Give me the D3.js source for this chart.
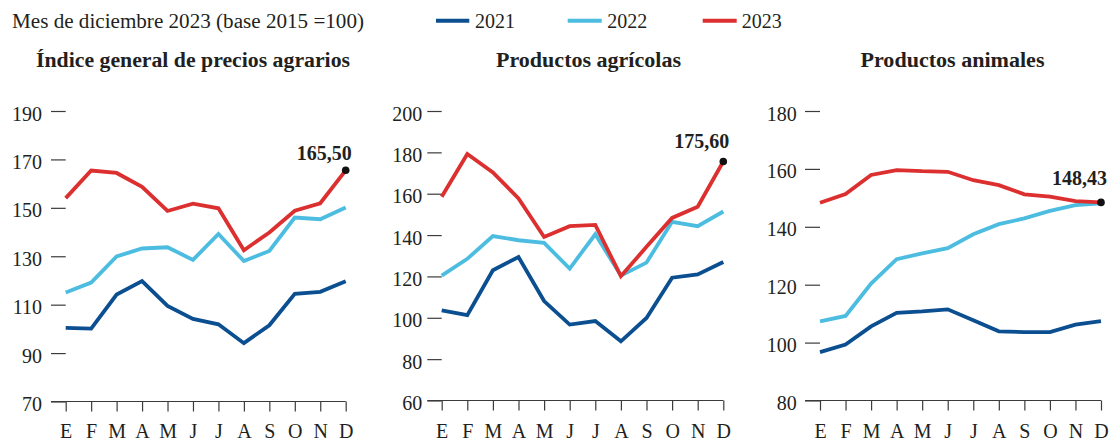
<!DOCTYPE html>
<html>
<head>
<meta charset="utf-8">
<script src="https://cdn.jsdelivr.net/npm/d3@7"></script>
<style>
  html, body { margin: 0; padding: 0; background: #ffffff; }
  svg { display: block; }
  text { font-family: "Liberation Serif", "DejaVu Serif", serif; fill: #231f20; }
</style>
</head>
<body>
<svg id="chart" width="1113" height="443"></svg>
<script>
// ---------- DATA ----------
const months = ["E", "F", "M", "A", "M", "J", "J", "A", "S", "O", "N", "D"];
const years = ["2021", "2022", "2023"];
const subtitle = "Mes de diciembre 2023 (base 2015 =100)";
const panelTitles = ["Índice general de precios agrarios", "Productos agrícolas", "Productos animales"];

const generalTicks = [70, 90, 110, 130, 150, 170, 190];
const general2021 = [100.4, 100.1, 114.2, 119.7, 109.5, 104.1, 101.9, 94.1, 101.5, 114.5, 115.3, 119.7];
const general2022 = [115.0, 119.1, 129.9, 133.2, 133.7, 128.5, 139.2, 128.0, 132.2, 146.0, 145.3, 150.1];
const general2023 = [154.0, 165.4, 164.4, 158.7, 148.7, 151.7, 149.8, 132.5, 139.8, 148.8, 151.9, 165.5];

const agricolaTicks = [60, 80, 100, 120, 140, 160, 180, 200];
const agricola2021 = [103.6, 101.3, 123.0, 129.4, 108.1, 96.7, 98.4, 88.6, 99.9, 119.4, 121.0, 127.0];
const agricola2022 = [120.4, 128.5, 139.5, 137.5, 136.2, 123.8, 140.4, 120.4, 126.7, 146.4, 144.3, 151.4];
const agricola2023 = [158.5, 179.2, 170.3, 157.7, 139.1, 144.3, 144.9, 120.1, 134.3, 148.3, 153.7, 175.6];

const animalTicks = [80, 100, 120, 140, 160, 180];
const animal2021 = [96.7, 99.3, 105.6, 110.3, 110.8, 111.5, 107.7, 103.9, 103.6, 103.6, 106.2, 107.4];
const animal2022 = [107.3, 109.2, 120.4, 128.8, 130.8, 132.6, 137.4, 140.9, 142.9, 145.5, 147.5, 148.1];
const animal2023 = [148.3, 151.3, 157.9, 159.6, 159.2, 159.0, 156.1, 154.4, 151.2, 150.4, 148.9, 148.43];

const finalLabels = ["165,50", "175,60", "148,43"];

// ---------- STYLE / LAYOUT ----------
const colors = { "2021": "#0b4f91", "2022": "#4cbde0", "2023": "#dc2f2f" };
const textColor = "#231f20";
const axisColor = "#3b3b3b";

const layout = [
  { tickStart: 51,    xE: 65.7,  xD: 345.7, yTop: 111, yBottom: 401.5, labelEnd: 42,    titleX: 36,    titleW: 314, annDy: -10.5 },
  { tickStart: 427.3, xE: 441.7, xD: 723.3, yTop: 111, yBottom: 400.5, labelEnd: 422.3, titleX: 496,   titleW: 185, annDy: -13 },
  { tickStart: 805,   xE: 820,   xD: 1101,  yTop: 111, yBottom: 400.5, labelEnd: 796.7, titleX: 860.5, titleW: 184, annDy: -17.5 }
];
const monthBaseline = 438;

const panels = [
  { ticks: generalTicks,  series: [general2021, general2022, general2023] },
  { ticks: agricolaTicks, series: [agricola2021, agricola2022, agricola2023] },
  { ticks: animalTicks,   series: [animal2021, animal2022, animal2023] }
];

const svg = d3.select("#chart");

// ---------- HEADER ----------
svg.append("text")
  .attr("x", 12).attr("y", 28.3)
  .attr("font-size", 20)
  .attr("textLength", 352).attr("lengthAdjust", "spacingAndGlyphs")
  .text(subtitle);

const legendPos = [
  { x1: 436, x2: 469.3, tx: 475 },
  { x1: 567.7, x2: 601.7, tx: 607.3 },
  { x1: 702.7, x2: 736.7, tx: 741.7 }
];
years.forEach((yr, i) => {
  const p = legendPos[i];
  svg.append("line")
    .attr("x1", p.x1).attr("x2", p.x2)
    .attr("y1", 20.7).attr("y2", 20.7)
    .attr("stroke", colors[yr]).attr("stroke-width", 4);
  svg.append("text")
    .attr("x", p.tx).attr("y", 28.3)
    .attr("font-size", 20)
    .text(yr);
});

// ---------- PANELS ----------
panels.forEach((panel, pi) => {
  const L = layout[pi];
  const g = svg.append("g");

  const x = d3.scaleLinear().domain([0, months.length - 1]).range([L.xE, L.xD]);
  const y = d3.scaleLinear()
    .domain([d3.min(panel.ticks), d3.max(panel.ticks)])
    .range([L.yBottom, L.yTop]);

  // title
  g.append("text")
    .attr("x", L.titleX).attr("y", 66.7)
    .attr("font-size", 20).attr("font-weight", "bold")
    .attr("textLength", L.titleW).attr("lengthAdjust", "spacingAndGlyphs")
    .text(panelTitles[pi]);

  // y axis (ticks only)
  const tickLen = L.xE - L.tickStart;
  const yAxis = d3.axisLeft(y)
    .tickValues(panel.ticks)
    .tickSize(tickLen)
    .tickPadding(L.tickStart - L.labelEnd)
    .tickFormat(d3.format("d"));
  const ya = g.append("g")
    .attr("transform", `translate(${L.xE},0)`)
    .call(yAxis);
  ya.select(".domain").remove();
  ya.selectAll(".tick line").attr("stroke", axisColor).attr("stroke-width", 1.2);
  ya.selectAll(".tick text")
    .attr("font-size", 20)
    .attr("font-family", "Liberation Serif, serif")
    .attr("fill", textColor)
    .attr("dy", "0.45em");

  // x axis
  const xAxis = d3.axisBottom(x)
    .tickValues(d3.range(months.length))
    .tickSize(10)
    .tickPadding(monthBaseline - L.yBottom - 10)
    .tickFormat(i => months[i]);
  const xa = g.append("g")
    .attr("transform", `translate(0,${L.yBottom})`)
    .call(xAxis);
  xa.select(".domain").remove();
  xa.append("line")
    .attr("x1", L.tickStart).attr("x2", L.xD)
    .attr("y1", 0).attr("y2", 0)
    .attr("stroke", axisColor).attr("stroke-width", 1.2);
  xa.selectAll(".tick line").attr("stroke", axisColor).attr("stroke-width", 1.2);
  xa.selectAll(".tick text")
    .attr("font-size", 20)
    .attr("font-family", "Liberation Serif, serif")
    .attr("fill", textColor)
    .attr("dy", "0");

  // lines
  const line = d3.line()
    .x((d, i) => x(i))
    .y(d => y(d));
  panel.series.forEach((vals, si) => {
    g.append("path")
      .datum(vals)
      .attr("d", line)
      .attr("fill", "none")
      .attr("stroke", colors[years[si]])
      .attr("stroke-width", 3.8)
      .attr("stroke-linejoin", "miter")
      .attr("stroke-linecap", "butt");
  });

  // final point + label
  const last = panel.series[2];
  const li = last.length - 1;
  g.append("circle")
    .attr("cx", x(li)).attr("cy", y(last[li]))
    .attr("r", 3.8).attr("fill", "#111");
  g.append("text")
    .attr("x", x(li) + 6).attr("y", y(last[li]) + L.annDy)
    .attr("text-anchor", "end")
    .attr("font-size", 20).attr("font-weight", "bold")
    .text(finalLabels[pi]);
});
</script>
</body>
</html>
